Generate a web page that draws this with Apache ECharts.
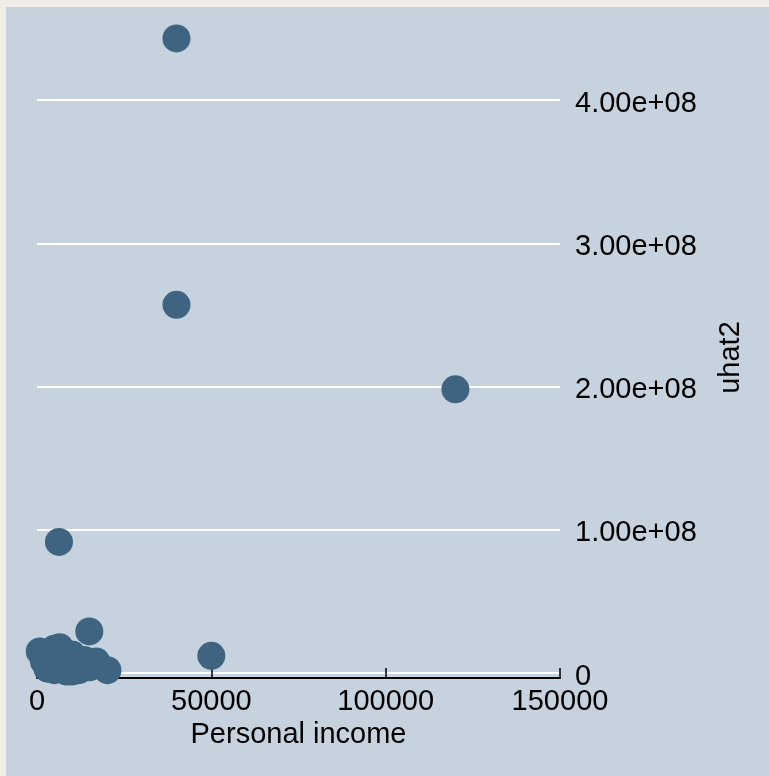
<!DOCTYPE html>
<html>
<head>
<meta charset="utf-8">
<script src="https://cdn.jsdelivr.net/npm/echarts@6/dist/echarts.min.js"></script>
<style>
html,body{margin:0;padding:0;background:#f0ece6;width:769px;height:776px;overflow:hidden;}
#c{position:absolute;left:6px;top:7px;width:763px;height:769px;}
</style>
</head>
<body>
<div id="c"></div>
<script>
// Personal income (x) vs uhat2 (y)
const income = [40000, 40000, 120000, 6300, 50000, 15000,
  800, 2500, 4000, 5000, 6500, 3000, 5000, 7000, 8000, 9000, 10000, 10000,
  11500, 12000, 13500, 15000, 16000, 17000, 20200, 8500, 6000, 2000];
const uhat2 = [4.43e8, 2.57e8, 1.98e8, 9.15e7, 1.2e7, 2.9e7,
  1.5e7, 1.3e7, 1.0e7, 1.7e7, 1.8e7, 0.3e7, 0.2e7, 0.6e7, 1.2e7, 0.4e7, 1.3e7, 0.1e7,
  0.8e7, 0.2e7, 0.9e7, 0.4e7, 0.6e7, 0.8e7, 0.2e7, 0.1e7, 1.0e7, 0.8e7];
const xTicks = [0, 50000, 100000, 150000];
const yTickLabels = ['0', '1.00e+08', '2.00e+08', '3.00e+08', '4.00e+08'];

const points = income.map((x, i) => [x, uhat2[i]]);
const font = 'Liberation Sans, Arial, sans-serif';
const fs = 29;

const chart = echarts.init(document.getElementById('c'), null, {renderer: 'canvas'});
chart.setOption({
  backgroundColor: '#c6d2dd',
  animation: false,
  grid: {left: 31, right: 209, top: 93, bottom: 103, containLabel: false},
  xAxis: {
    type: 'value', min: 0, max: 150000, interval: 50000, offset: 5,
    name: 'Personal income', nameLocation: 'middle', nameGap: 41,
    nameTextStyle: {fontFamily: font, fontSize: fs, color: '#000'},
    axisLine: {show: true, onZero: false, lineStyle: {color: '#000', width: 2}},
    axisTick: {show: true, inside: true, length: 10, lineStyle: {color: '#000', width: 1.5}},
    axisLabel: {fontFamily: font, fontSize: fs, color: '#000', margin: 9,
      formatter: v => xTicks.includes(v) ? String(v) : ''},
    splitLine: {show: false}
  },
  yAxis: {
    type: 'value', position: 'right', min: 0, max: 4e8, interval: 1e8,
    name: 'uhat2', nameLocation: 'middle', nameGap: 156, nameMoveOverlap: false,
    nameTextStyle: {fontFamily: font, fontSize: fs, color: '#000', padding: [0, 0, 0, 58]},
    axisLine: {show: false},
    axisTick: {show: true, length: 3, lineStyle: {color: '#ffffff', width: 2}},
    axisLabel: {fontFamily: font, fontSize: fs, color: '#000', margin: 15,
      formatter: v => { const t = yTickLabels[Math.round(v / 1e8)]; return t ? '{a|' + t + '}' : ''; },
      rich: {a: {fontFamily: font, fontSize: fs, color: '#000', padding: [7, 0, 0, 0]}}},
    splitLine: {show: true, lineStyle: {color: '#ffffff', width: 2}}
  },
  series: [{
    type: 'scatter', data: points, symbolSize: 28, clip: false,
    itemStyle: {color: '#3e6481', opacity: 1}
  }]
});
</script>
</body>
</html>
